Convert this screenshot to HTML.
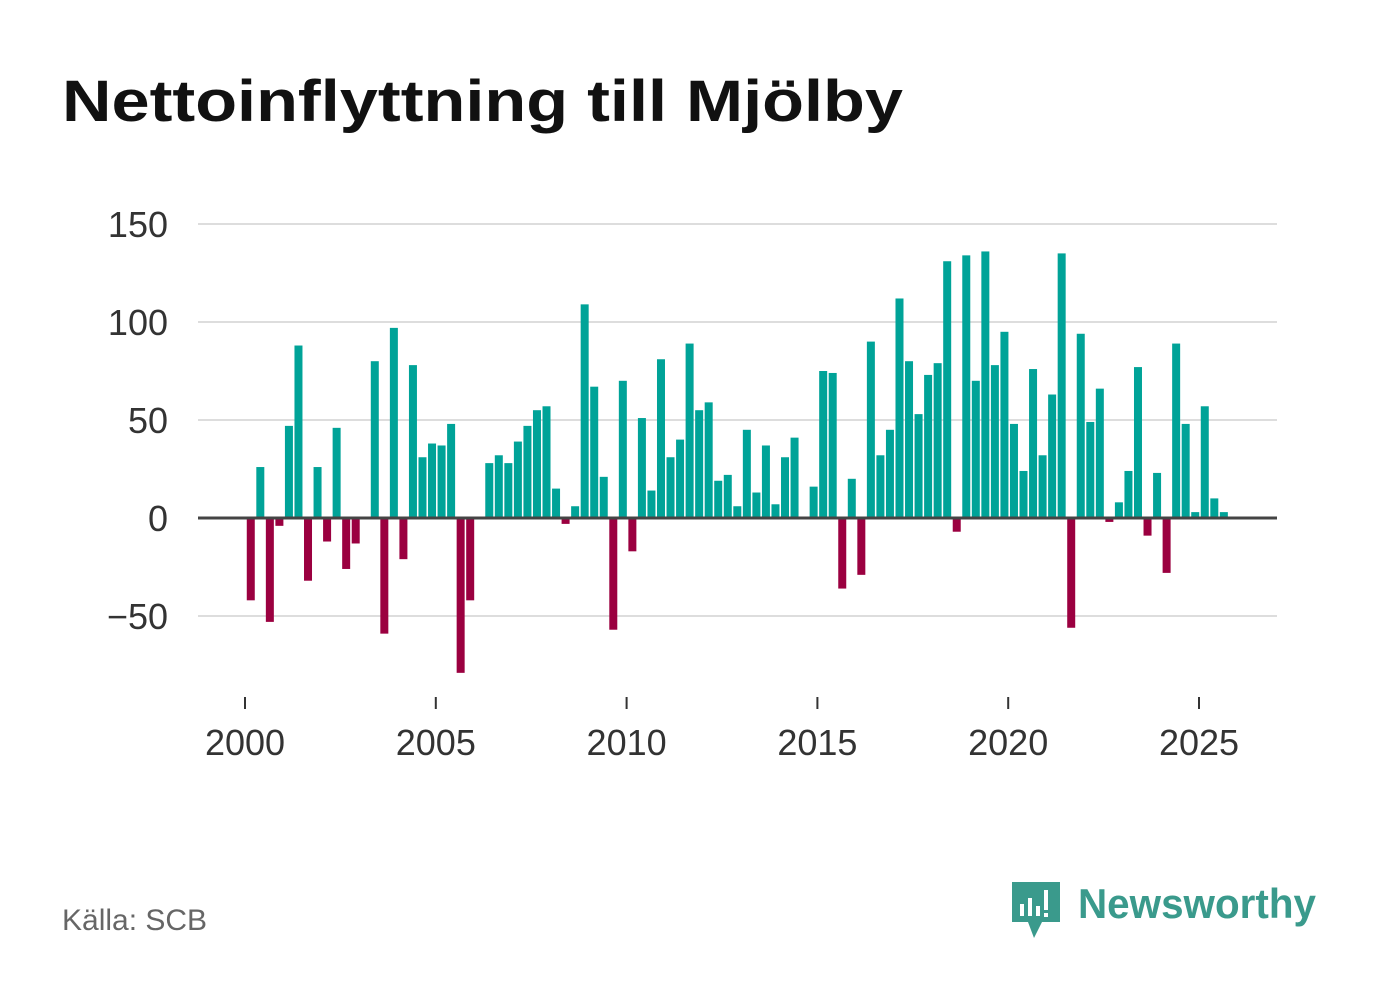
<!DOCTYPE html>
<html><head><meta charset="utf-8"><style>
body{margin:0;background:#fff;width:1382px;height:999px;overflow:hidden;font-family:"Liberation Sans",sans-serif}
</style></head><body>
<svg width="1382" height="999">
<text x="62" y="121" font-size="58" font-weight="bold" fill="#111" textLength="841" lengthAdjust="spacingAndGlyphs">Nettoinflyttning till Mjölby</text>
<g id="grid"></g><g id="bars"></g><g id="axis"></g>
<text x="62" y="930" font-size="30" fill="#666">Källa: SCB</text>
<g>
<path d="M1012 882 h48 v40 h-18 l-8 16 l-6 -16 h-16 z" fill="#3a9a8c"/>
<rect x="1020" y="904" width="4" height="12" fill="#fff"/><rect x="1028" y="898" width="4" height="18" fill="#fff"/><rect x="1036" y="906" width="4" height="10" fill="#fff"/><rect x="1044" y="890" width="4" height="20" fill="#fff"/><rect x="1044" y="913" width="4" height="4" fill="#fff"/>
<text x="1078" y="918" font-size="42" font-weight="bold" fill="#3a9a8c" textLength="238" lengthAdjust="spacingAndGlyphs">Newsworthy</text>
</g>
</svg>
<script>
const values=[-42,26,-53,-4,47,88,-32,26,-12,46,-26,-13,0,80,-59,97,-21,78,31,38,37,48,-79,-42,0,28,32,28,39,47,55,57,15,-3,6,109,67,21,-57,70,-17,51,14,81,31,40,89,55,59,19,22,6,45,13,37,7,31,41,0,16,75,74,-36,20,-29,90,32,45,112,80,53,73,79,131,-7,134,70,136,78,95,48,24,76,32,63,135,-56,94,49,66,-2,8,24,77,-9,23,-28,89,48,3,57,10,3];
const yTicks=[150,100,50,0,-50];
const yTickLabels=["150","100","50","0","−50"];
const xTicks=[2000,2005,2010,2015,2020,2025];
const NS="http://www.w3.org/2000/svg";
const x=yr=>245+(yr-2000)*38.16;
const y=v=>518-v*1.96;
function mk(t,a,p){const e=document.createElementNS(NS,t);for(const k in a)e.setAttribute(k,a[k]);p.appendChild(e);return e;}
const grid=document.getElementById('grid'),bars=document.getElementById('bars'),axis=document.getElementById('axis');
yTicks.forEach((t,i)=>{
 if(t!==0){const l=mk('line',{x1:198,x2:1277,y1:y(t),y2:y(t),stroke:'#ddd','stroke-width':2},grid);
 
 }
 const tx=mk('text',{x:168,y:y(t)+13,'font-size':36,'text-anchor':'end',fill:'#333'},grid);tx.textContent=yTickLabels[i];
 
 
});
values.forEach((v,i)=>{
 const cx=x(2000+(i+0.5)/4)+1;
 const r=mk('rect',{x:cx-4,width:8,y:Math.min(y(v),y(0)),height:Math.abs(y(v)-y(0)),fill:v>=0?'#00a398':'#9b0040'},bars);
 
 
});
const z=mk('line',{x1:198,x2:1277,y1:y(0),y2:y(0),stroke:'#444','stroke-width':3},axis);


xTicks.forEach(t=>{
 mk('line',{x1:x(t),x2:x(t),y1:697,y2:709,stroke:'#333','stroke-width':2},axis);
 const tx=mk('text',{x:x(t),y:755,'font-size':36,'text-anchor':'middle',fill:'#333'},axis);tx.textContent=t;
 
 
});
</script>
</body></html>
